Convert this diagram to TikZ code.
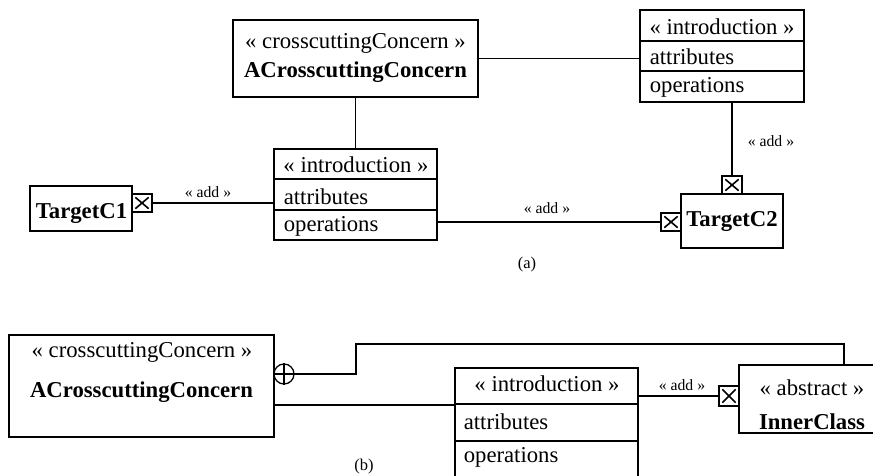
\documentclass[tikz,border=0pt]{standalone}
\usepackage{fontspec}
\setmainfont{Liberation Serif}
\newcommand\drawxbox[1]{%
  \draw ([shift={(4,4)}]#1.north west) -- ([shift={(-4,-4)}]#1.south east);
  \draw ([shift={(4,-4)}]#1.south west) -- ([shift={(-4,4)}]#1.north east);}
\begin{document}
\begin{tikzpicture}[x=1pt,y=-1pt,line width=1.6pt,
  box/.style={draw,rectangle,inner sep=0pt,line width=1.6pt},
  xbox/.style={draw,rectangle,inner sep=0pt,minimum width=20pt,minimum height=18pt,line width=1.3pt},
  txt/.style={inner sep=0pt,font=\fontsize{22.7}{26}\selectfont},
  btxt/.style={inner sep=0pt,font=\fontsize{22.7}{26}\selectfont\bfseries},
  ltxt/.style={inner sep=0pt,anchor=west,font=\fontsize{22.7}{26}\selectfont},
  lab/.style={inner sep=0pt,font=\fontsize{15.7}{18}\selectfont},
  captxt/.style={inner sep=0pt,font=\fontsize{16.5}{19}\selectfont}]
\clip (0,0) rectangle (873,476);
\fill[white] (0,0) rectangle (873,476);
% ---------- (a) ----------
\node[box,minimum width=245pt,minimum height=77pt] (acc) at (355.5,58.5) {};
\node[txt] (acct) at (355.5,43) {« crosscuttingConcern »};
\node[btxt] (accn) at (355.5,72) {ACrosscuttingConcern};

\node[box,minimum width=164pt,minimum height=92pt] (i2) at (722,56) {};
\draw (i2.west |- 0,41) -- (i2.east |- 0,41);
\draw (i2.west |- 0,71) -- (i2.east |- 0,71);
\node[txt] (i2t) at (722,27) {« introduction »};
\node[ltxt] (i2a) at (649,57) {attributes};
\node[ltxt] (i2o) at (649,87) {operations};

\node[box,minimum width=163pt,minimum height=91pt] (i1) at (355.5,194.5) {};
\draw (i1.west |- 0,179) -- (i1.east |- 0,179);
\draw (i1.west |- 0,210) -- (i1.east |- 0,210);
\node[txt] (i1t) at (356,165) {« introduction »};
\node[ltxt] (i1a) at (283,197) {attributes};
\node[ltxt] (i1o) at (283,226) {operations};

\node[box,minimum width=102pt,minimum height=45pt] (tc1) at (81,208.5) {};
\node[btxt] (tc1t) at (81.5,213) {TargetC1};
\node[xbox] (x1) at (142,203) {};
\drawxbox{x1}

\node[box,minimum width=102pt,minimum height=54pt] (tc2) at (732,221) {};
\node[btxt] (tc2t) at (732,221) {TargetC2};
\node[xbox] (x2) at (671,222) {};
\drawxbox{x2}
\node[xbox] (x3) at (732,185) {};
\drawxbox{x3}

\draw (acc.south) -- (i1.north);
\draw (acc.east) -- (acc.east -| i2.west);
\draw (x1.east) -- (x1.east -| i1.west);
\draw (x2.west -| i1.east) -- (x2.west);
\draw (x3.north |- i2.south) -- (x3.north);

\node[lab] (l1) at (208,192) {« add »};
\node[lab] (l2) at (547,208) {« add »};
\node[lab] (l3) at (771,141) {« add »};
\node[captxt] (capa) at (527,265) {(a)};

% ---------- (b) ----------
\node[box,minimum width=265pt,minimum height=102pt] (accb) at (141.5,386) {};
\node[txt] (accbt) at (142,352) {« crosscuttingConcern »};
\node[btxt] (accbn) at (141.5,392) {ACrosscuttingConcern};

\node[box,minimum width=183pt,minimum height=122pt] (ib) at (546.5,429) {};
\draw (ib.west |- 0,404) -- (ib.east |- 0,404);
\draw (ib.west |- 0,441) -- (ib.east |- 0,441);
\node[txt] (ibt) at (547,384) {« introduction »};
\node[ltxt] (iba) at (463,422) {attributes};
\node[ltxt] (ibo) at (463,457) {operations};

\node[box,minimum width=151pt,minimum height=68pt] (ic) at (814.5,399) {};
\node[txt] (ict) at (812,388) {« abstract »};
\node[btxt] (icn) at (812,422) {InnerClass};
\node[xbox,minimum height=20pt] (xb) at (729,396) {};
\drawxbox{xb}

\node[draw,circle,inner sep=0pt,minimum size=20pt,line width=1.3pt] (c) at (284,374) {};
\draw[line width=1.3pt] (c.north) -- (c.south);
\draw[line width=1.3pt] (c.west) -- (c.east);

\coordinate (bend) at (356,344);
\draw (c.east) -| (bend) -| ([shift={(29.5,0)}]ic.north);
\draw ([shift={(0,19)}]accb.east) -- ([shift={(0,19)}]accb.east -| ib.west);
\draw (xb.west -| ib.east) -- (xb.west);

\node[lab] (l4) at (682,385) {« add »};
\node[captxt] (capb) at (364,467) {(b)};
\end{tikzpicture}
\end{document}
